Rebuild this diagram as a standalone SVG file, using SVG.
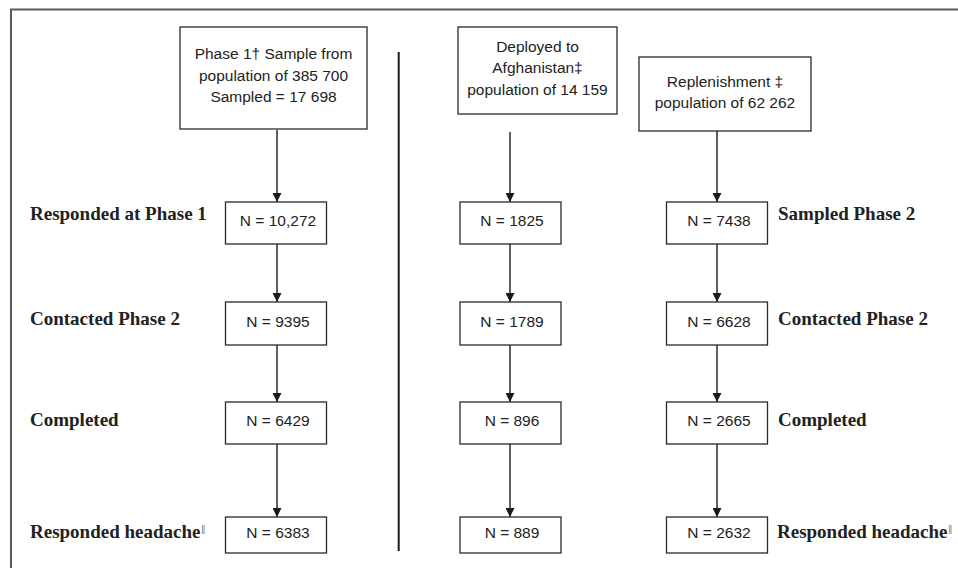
<svg xmlns="http://www.w3.org/2000/svg" width="958" height="568" viewBox="0 0 958 568">
<defs>
<marker id="ah" markerWidth="9" markerHeight="9" refX="9" refY="4.5" orient="auto" markerUnits="userSpaceOnUse">
<path d="M0,0 L9,4.5 L0,9 Z" fill="#1a1a1a"/>
</marker>
<style>
.box{fill:#fff;stroke:#2a2a2a;stroke-width:1.3}
.t{font-family:"Liberation Sans",Arial,sans-serif;font-size:15.5px;fill:#222;text-anchor:middle}
.lb{font-family:"Liberation Serif","Times New Roman",serif;font-size:19px;font-weight:bold;fill:#222}
.sup{font-size:10px;font-weight:normal;letter-spacing:-0.5px}
.c{stroke:#1a1a1a;stroke-width:1.4;fill:none;marker-end:url(#ah)}
</style>
</defs>
<rect width="958" height="568" fill="#fff"/>
<path d="M11,568 L11,9.5 L958,9.5" fill="none" stroke="#5a5a5a" stroke-width="2"/>
<line x1="398.7" y1="52" x2="398.7" y2="551" stroke="#1a1a1a" stroke-width="2"/>

<g id="connectors">
<line class="c" x1="277" y1="130" x2="277" y2="202"/>
<line class="c" x1="277" y1="244" x2="277" y2="302"/>
<line class="c" x1="277" y1="345" x2="277" y2="402"/>
<line class="c" x1="277" y1="444" x2="277" y2="517"/>
<line class="c" x1="510" y1="132" x2="510" y2="202"/>
<line class="c" x1="510" y1="244" x2="510" y2="302"/>
<line class="c" x1="510" y1="345" x2="510" y2="402"/>
<line class="c" x1="510" y1="444" x2="510" y2="517"/>
<line class="c" x1="717" y1="131" x2="717" y2="202"/>
<line class="c" x1="717" y1="244" x2="717" y2="302"/>
<line class="c" x1="717" y1="345" x2="717" y2="402"/>
<line class="c" x1="717" y1="444" x2="717" y2="517"/>
</g>

<g id="phase1">
<rect class="box" x="180" y="27" width="187" height="102"/>
<text class="t" x="273.5" y="59">Phase 1† Sample from</text>
<text class="t" x="273.5" y="81">population of 385 700</text>
<text class="t" x="273.5" y="102">Sampled = 17 698</text>
</g>
<g id="afghanistan">
<rect class="box" x="458" y="27" width="159" height="87"/>
<text class="t" x="537.5" y="52">Deployed to</text>
<text class="t" x="537.5" y="73">Afghanistan‡</text>
<text class="t" x="537.5" y="95">population of 14 159</text>
</g>
<g id="replenishment">
<rect class="box" x="639" y="57" width="172" height="74"/>
<text class="t" x="725" y="87">Replenishment ‡</text>
<text class="t" x="725" y="108">population of 62 262</text>
</g>

<g id="c1r1"><rect class="box" x="225.5" y="202" width="101" height="42"/><text class="t" x="278" y="226">N = 10,272</text></g>
<g id="c1r2"><rect class="box" x="225.5" y="302" width="101" height="43"/><text class="t" x="278" y="327">N = 9395</text></g>
<g id="c1r3"><rect class="box" x="225.5" y="402" width="101" height="42"/><text class="t" x="278" y="426">N = 6429</text></g>
<g id="c1r4"><rect class="box" x="225.5" y="517" width="101" height="36"/><text class="t" x="278" y="538">N = 6383</text></g>

<g id="c2r1"><rect class="box" x="460" y="202" width="101" height="42"/><text class="t" x="512" y="226">N = 1825</text></g>
<g id="c2r2"><rect class="box" x="460" y="302" width="101" height="43"/><text class="t" x="512" y="327">N = 1789</text></g>
<g id="c2r3"><rect class="box" x="460" y="402" width="101" height="42"/><text class="t" x="512" y="426">N = 896</text></g>
<g id="c2r4"><rect class="box" x="460" y="517" width="101" height="36"/><text class="t" x="512" y="538">N = 889</text></g>

<g id="c3r1"><rect class="box" x="666.5" y="202" width="101" height="42"/><text class="t" x="719" y="226">N = 7438</text></g>
<g id="c3r2"><rect class="box" x="666.5" y="302" width="101" height="43"/><text class="t" x="719" y="327">N = 6628</text></g>
<g id="c3r3"><rect class="box" x="666.5" y="402" width="101" height="42"/><text class="t" x="719" y="426">N = 2665</text></g>
<g id="c3r4"><rect class="box" x="666.5" y="517" width="101" height="36"/><text class="t" x="719" y="538">N = 2632</text></g>

<g id="labels-left">
<text class="lb" x="30" y="220">Responded at Phase 1</text>
<text class="lb" x="30" y="325">Contacted Phase 2</text>
<text class="lb" x="30" y="426">Completed</text>
<text class="lb" x="30" y="538">Responded headache<tspan class="sup" dx="1" dy="-6">||</tspan></text>
</g>
<g id="labels-right">
<text class="lb" x="778" y="220">Sampled Phase 2</text>
<text class="lb" x="778" y="325">Contacted Phase 2</text>
<text class="lb" x="778" y="426">Completed</text>
<text class="lb" x="777" y="538">Responded headache<tspan class="sup" dx="1" dy="-6">||</tspan></text>
</g>
</svg>
